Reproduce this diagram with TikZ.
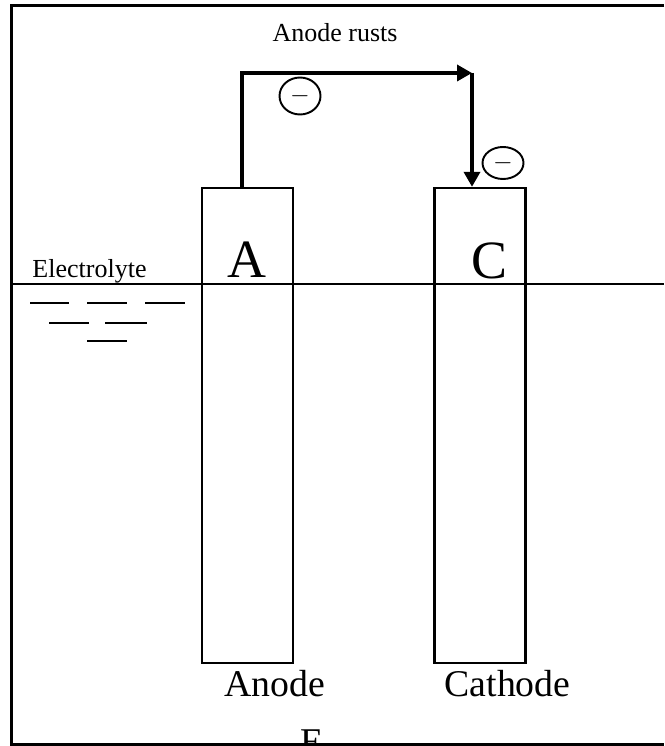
\documentclass[tikz,border=0pt]{standalone}
\usepackage{fontspec}
\setmainfont{Liberation Serif}
\usetikzlibrary{arrows.meta,shapes.geometric}
\begin{document}
\begin{tikzpicture}[
  x=0.02cm, y=-0.02cm,
  electrode/.style={rectangle, draw, line width=1.4pt, minimum width=1.82cm, minimum height=9.5cm, inner sep=0pt},
  wire/.style={line width=2pt, -{Triangle[length=0.3cm, width=0.32cm]}},
  electron/.style={ellipse, draw, line width=1.1pt, minimum width=0.82cm, minimum height=0.74cm, inner sep=0pt, font=\Large},
  letter/.style={anchor=base, font=\fontsize{30.7}{34}\selectfont},
  tag/.style={anchor=base, font=\fontsize{21.5}{24}\selectfont},
  note/.style={anchor=base, font=\fontsize{14.8}{17}\selectfont},
]
\useasboundingbox (0,0) rectangle (664,746);
\clip (0,0) rectangle (664,746);

% Frame
\draw[line width=1.6pt] (664,5.5) -- (11.5,5.5) -- (11.5,744.5) -- (664,744.5);

% Electrolyte surface
\draw[line width=1.5pt] (11.5,284) -- (664,284);
\node[note] (electrolyte) at (89.5,277) {Electrolyte};
\draw[line width=1.5pt] (30,303) -- (69,303) (87,303) -- (127,303) (145,303) -- (185,303);
\draw[line width=1.5pt] (49,323) -- (89,323) (105,323) -- (147,323);
\draw[line width=1.5pt] (87,341) -- (127,341);

% Electrodes
\node[electrode] (anode) at (247.5,425.5) {};
\node[electrode] (cathode) at (480,425.5) {};
\node[letter] (a) at (247,277) {A};
\node[letter] (c) at (489,278) {C};
\node[tag] (anodename) at (275,696) {Anode};
\node[tag] (cathodename) at (507.5,696) {Cathode};
\node[tag] (e) at (312,754) {E};

% External circuit
\node[note] (title) at (335,42) {Anode rusts};
\coordinate (corner) at (472,73);
\draw[wire] ([xshift=-0.11cm]anode.north) |- (corner);
\draw[wire] (corner) -- (corner |- cathode.north);
\node[electron] (e1) at (300,96) {$-$};
\node[electron, minimum height=0.64cm] (e2) at (503,163) {$-$};

\end{tikzpicture}
\end{document}
